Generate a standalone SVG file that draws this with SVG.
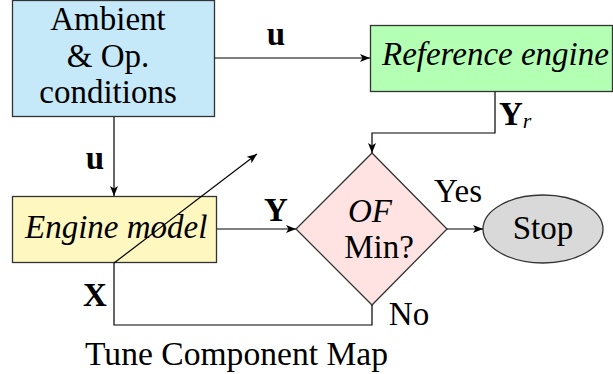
<svg xmlns="http://www.w3.org/2000/svg" width="613" height="374" viewBox="0 0 613 374">
<defs>
<marker id="arr" viewBox="0 0 10 8" refX="10" refY="4" markerWidth="10" markerHeight="8" markerUnits="userSpaceOnUse" orient="auto">
<path d="M0,0 L10,4 L0,8 L2.5,4 Z" fill="#000"/>
</marker>
<style>
.t{font-size:33px;fill:#000}
.c{text-anchor:middle}
.it{font-style:italic}
.bf{font-weight:bold}
.box{stroke:#333;stroke-width:1.3}
.ln{fill:none;stroke:#000;stroke-width:1.2}
</style>
</defs>
<rect width="613" height="374" fill="#fff"/>
<g font-family="Liberation Serif, Times New Roman, serif">
<g id="ambient">
<rect class="box" x="12.5" y="0.5" width="202" height="116" fill="#c6e9f9"/>
<text class="t c" x="108" y="30">Ambient</text>
<text class="t c" x="108" y="67">&amp; Op.</text>
<text class="t c" x="108" y="103">conditions</text>
</g>
<g id="reference">
<rect class="box" x="370.5" y="25.5" width="242" height="66" fill="#b3ffb3"/>
<text class="t it" x="382" y="65">Reference engine</text>
</g>
<g id="engine">
<rect class="box" x="12.5" y="196.5" width="204" height="66" fill="#fef7c0"/>
<text class="t it" x="25" y="238">Engine model</text>
</g>
<g id="decision">
<polygon class="box" points="372,153 447,229 372,305 296,229" fill="#ffe3e3"/>
<text class="t it c" x="370" y="222">OF</text>
<text class="t c" x="379" y="258">Min?</text>
</g>
<g id="stop">
<ellipse class="box" cx="543" cy="229" rx="60" ry="34" fill="#d9d9d9"/>
<text class="t c" x="543" y="239">Stop</text>
</g>
<g id="connectors">
<path class="ln" d="M214.5,58 H370" marker-end="url(#arr)"/>
<path class="ln" d="M114,117 V196" marker-end="url(#arr)"/>
<path class="ln" d="M495,92 V133 H372 V153" marker-end="url(#arr)"/>
<path class="ln" d="M217,229 H296" marker-end="url(#arr)"/>
<path class="ln" d="M447,229 H483" marker-end="url(#arr)"/>
<path class="ln" d="M372,305 V325 H114 V263"/>
<path class="ln" d="M114,263 L257,154" marker-end="url(#arr)"/>
<text class="t bf c" x="276" y="45">u</text>
<text class="t bf c" x="95" y="169">u</text>
<text class="t bf c" x="276" y="221">Y</text>
<text class="t bf c" x="95" y="306">X</text>
<text class="t" x="499" y="125"><tspan class="bf">Y</tspan><tspan class="it" font-size="22" dy="3">r</tspan></text>
<text class="t c" x="458" y="202">Yes</text>
<text class="t c" x="409" y="325">No</text>
<text class="t" x="85" y="365" textLength="303" lengthAdjust="spacingAndGlyphs">Tune Component Map</text>
</g>
</g>
</svg>
